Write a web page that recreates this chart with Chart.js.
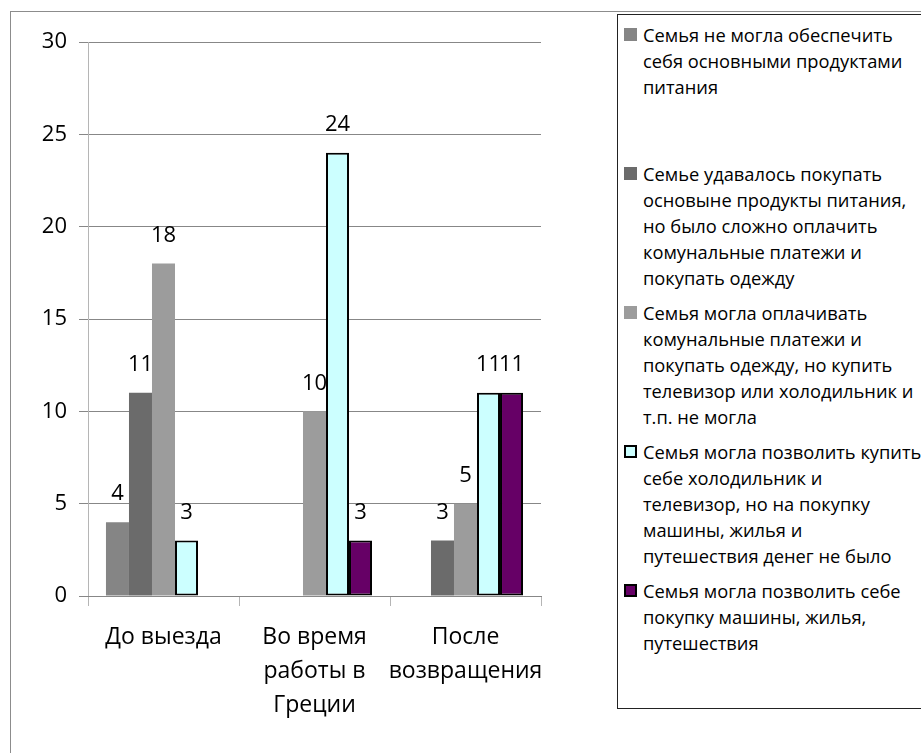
<!DOCTYPE html>
<html>
<head>
<meta charset="utf-8">
<script src="https://cdn.jsdelivr.net/npm/chart.js@4"></script>
<style>
  html, body { margin: 0; padding: 0; background: #fff; }
  body { width: 921px; height: 753px; overflow: hidden; position: relative; font-family: "Open Sans", sans-serif; }
  #frame { position: absolute; left: 10px; top: 11px; width: 1000px; height: 1000px;
           border-left: 1px solid #8c8c8c; border-top: 1px solid #8c8c8c; }
  #wrap { position: absolute; left: 0; top: 0; width: 560px; height: 753px; }
  #legend { position: absolute; left: 617px; top: 14px; width: 400px; height: 695px;
            border: 1px solid #222; box-sizing: border-box; }
  .item { position: absolute; left: 0; height: 139px; }
  .mark { position: absolute; left: 6px; top: 6px; width: 13px; height: 13px; box-sizing: border-box; }
  .txt { position: absolute; left: 25px; top: 0; font-size: 18.3px; line-height: 26px; white-space: nowrap; color: #000; }
</style>
</head>
<body>
<div id="frame"></div>
<div id="wrap"><canvas id="chart"></canvas></div>
<div id="legend"></div>
<script>
// categories and series
const categories = [
  'До выезда',
  ['Во время', 'работы в', 'Греции'],
  ['После', 'возвращения']
];

const seriesNames = [
  ['Семья не могла обеспечить', 'себя основными продуктами', 'питания'],
  ['Семье удавалось покупать', 'основыне продукты питания,', 'но было сложно оплачить', 'комунальные платежи и', 'покупать одежду'],
  ['Семья могла оплачивать', 'комунальные платежи и', 'покупать одежду, но купить', 'телевизор или холодильник и', 'т.п. не могла'],
  ['Семья могла позволить купить', 'себе холодильник и', 'телевизор, но на покупку', 'машины, жилья и', 'путешествия денег не было'],
  ['Семья могла позволить себе', 'покупку машины, жилья,', 'путешествия']
];

const noFood = [4, null, null];
const basicFood = [11, null, 3];
const bills = [18, 10, 5];
const fridgeTv = [3, 24, 11];
const carHome = [null, 3, 11];

const yTicks = [0, 5, 10, 15, 20, 25, 30];

const fills = ['#858585', '#6b6b6b', '#9c9c9c', '#ccffff', '#660066'];
const borders = [0, 0, 0, 2, 2];

const allSeries = [noFood, basicFood, bills, fridgeTv, carHome];

const valueLabels = {
  id: 'valueLabels',
  afterDatasetsDraw(chart) {
    const ctx = chart.ctx;
    ctx.save();
    ctx.font = '22px "Open Sans"';
    ctx.fillStyle = '#000';
    ctx.textAlign = 'center';
    ctx.textBaseline = 'middle';
    chart.data.datasets.forEach((ds, i) => {
      const meta = chart.getDatasetMeta(i);
      meta.data.forEach((bar, j) => {
        const v = ds.data[j];
        if (v == null) return;
        ctx.fillText(String(v), bar.x, bar.y - 28);
      });
    });
    ctx.restore();
  }
};

const canvas = document.getElementById('chart');
canvas.width = 560;
canvas.height = 753;

new Chart(canvas, {
  type: 'bar',
  data: {
    labels: categories,
    datasets: allSeries.map((d, i) => ({
      label: seriesNames[i].join(' '),
      data: d,
      backgroundColor: fills[i],
      borderColor: '#000',
      borderWidth: borders[i],
      borderSkipped: false,
      categoryPercentage: 0.762,
      barPercentage: 1.0
    }))
  },
  options: {
    responsive: false,
    animation: false,
    devicePixelRatio: 1,
    layout: { padding: { left: 0, right: 19, top: 42, bottom: 0 } },
    plugins: { legend: { display: false }, tooltip: { enabled: false } },
    scales: {
      y: {
        min: 0,
        max: 30,
        afterBuildTicks(scale) { scale.ticks = yTicks.map(v => ({ value: v })); },
        afterFit(scale) { scale.width = 88; },
        ticks: { color: '#000', font: { family: 'Open Sans', size: 22 }, padding: 12 },
        grid: { color: '#878787', lineWidth: 1, tickLength: 9, drawTicks: true },
        border: { color: '#b5b5b5', width: 1 }
      },
      x: {
        afterFit(scale) { scale.height = 157; },
        ticks: { color: '#000', font: { family: 'Open Sans', size: 23, lineHeight: 1.48 }, padding: 14, maxRotation: 0, autoSkip: false },
        grid: { offset: true, drawOnChartArea: false, drawTicks: true, tickLength: 10, color: '#b5b5b5' },
        border: { color: '#878787', width: 1 }
      }
    }
  },
  plugins: [valueLabels]
});

// legend built from the same series
const legend = document.getElementById('legend');
seriesNames.forEach((lines, i) => {
  const item = document.createElement('div');
  item.className = 'item';
  item.style.top = (7 + i * 139) + 'px';
  const mark = document.createElement('div');
  mark.className = 'mark';
  mark.style.background = fills[i];
  if (borders[i]) mark.style.border = '2px solid #000';
  const txt = document.createElement('div');
  txt.className = 'txt';
  txt.innerHTML = lines.join('<br>');
  item.appendChild(mark);
  item.appendChild(txt);
  legend.appendChild(item);
});
</script>
</body>
</html>
